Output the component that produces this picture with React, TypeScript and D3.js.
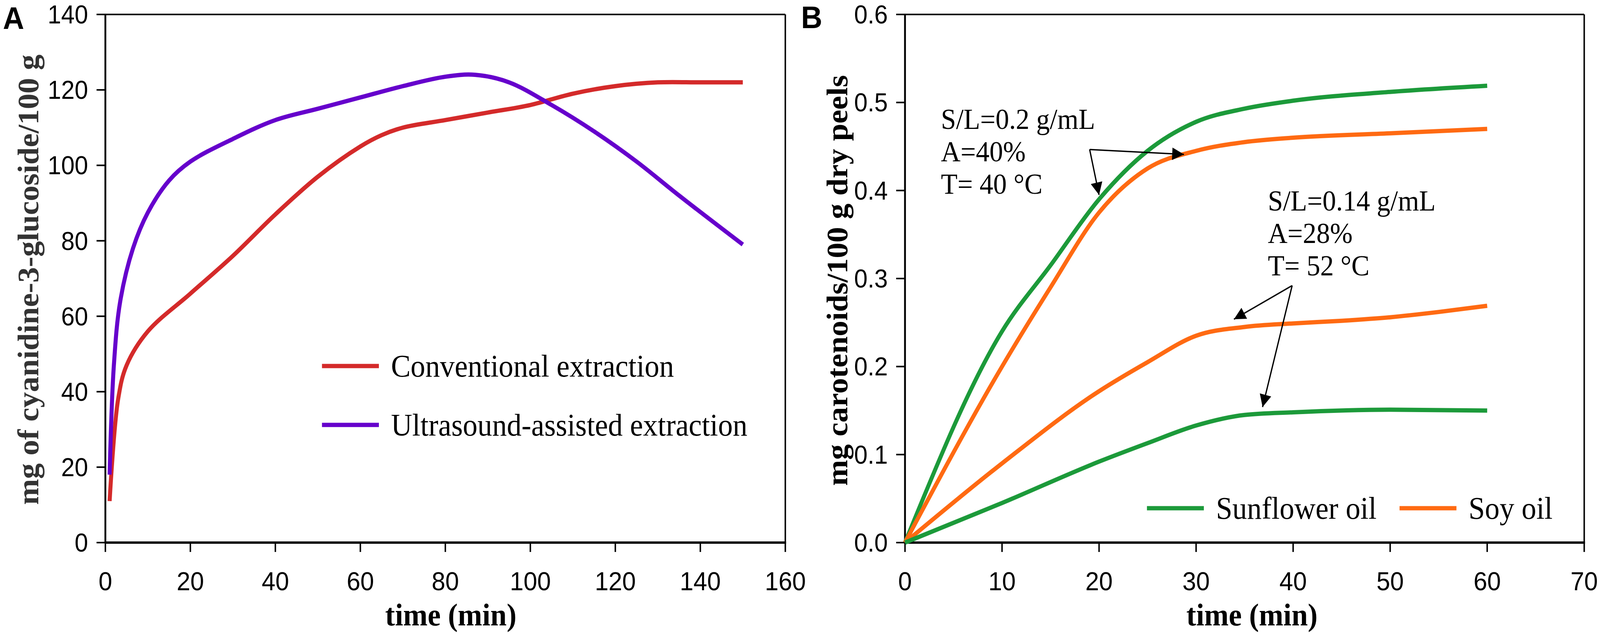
import React, { useEffect, useRef } from 'react';
import * as d3 from 'd3';

// Panel A: anthocyanin extraction
const timeConv = [1, 3, 5, 10, 20, 30, 40, 50, 60, 65, 70, 80, 90, 100, 110, 120, 130, 140, 150];
const conventional = [11, 38, 47, 56, 66, 76, 87, 97, 105, 108, 110, 112, 114, 116, 119, 121, 122, 122, 122];
const timeUltra = [1, 2, 3.5, 6.5, 10, 15, 20, 30, 40, 50, 60, 70, 80, 87, 95, 105, 115, 125, 135, 150];
const ultrasound = [18, 47, 64, 78, 87.5, 96, 101, 107, 112, 115, 118, 121, 123.5, 124, 122, 116, 109, 101, 92, 79];
const ticksA_x = [0, 20, 40, 60, 80, 100, 120, 140, 160];
const ticksA_y = [0, 20, 40, 60, 80, 100, 120, 140];

// Panel B: carotenoid extraction
const timeSunHigh = [0, 10, 15, 20, 25, 30, 35, 40, 50, 60];
const sunflowerHigh = [0, 0.24, 0.315, 0.39, 0.445, 0.478, 0.493, 0.502, 0.512, 0.519];
const timeSoyHigh = [0, 10, 15, 20, 25, 30, 35, 40, 50, 60];
const soyHigh = [0, 0.2, 0.29, 0.375, 0.425, 0.445, 0.455, 0.46, 0.465, 0.47];
const timeSoyLow = [0, 10, 20, 25, 30, 35, 40, 45, 50, 55, 60];
const soyLow = [0, 0.09, 0.172, 0.205, 0.235, 0.245, 0.249, 0.252, 0.256, 0.262, 0.269];
const timeSunLow = [0, 10, 20, 25, 30, 35, 40, 50, 60];
const sunflowerLow = [0, 0.045, 0.092, 0.113, 0.133, 0.145, 0.148, 0.151, 0.15];
const ticksB_x = [0, 10, 20, 30, 40, 50, 60, 70];
const ticksB_y = [0, 0.1, 0.2, 0.3, 0.4, 0.5, 0.6];

const noteHigh = ['S/L=0.2 g/mL', 'A=40%', 'T= 40 °C'];
const noteLow = ['S/L=0.14 g/mL', 'A=28%', 'T= 52 °C'];

const RED = '#d42a2a';
const PURPLE = '#6600cc';
const GREEN = '#1c9a3a';
const ORANGE = '#ff6a12';

const SANS = '"Liberation Sans", Arial, sans-serif';
const SERIF = '"Liberation Serif", "Times New Roman", serif';

const W = 4358;
const H = 1623;

const App: React.FC = () => {
    const svgRef = useRef<SVGSVGElement>(null);

    useEffect(() => {
        document.body.style.margin = '0';
        document.body.style.overflow = 'hidden';

        const svg = d3.select(svgRef.current);
        svg.selectAll('*').remove();

        const defs = svg.append('defs');
        defs.append('marker')
            .attr('id', 'arrow')
            .attr('viewBox', '0 0 10 10')
            .attr('refX', 10)
            .attr('refY', 5)
            .attr('markerUnits', 'userSpaceOnUse')
            .attr('markerWidth', 40)
            .attr('markerHeight', 32)
            .attr('orient', 'auto')
            .append('path')
            .attr('d', 'M0,0 L10,5 L0,10 Z')
            .attr('fill', '#000');

        const drawFrame = (x: d3.ScaleLinear<number, number>, y: d3.ScaleLinear<number, number>,
            xt: number[], yt: number[], yFmt: (v: number) => string) => {
            const [x0, x1] = x.range();
            const [y0, y1] = y.range();
            const g = svg.append('g');

            // box
            g.append('line').attr('x1', x0).attr('x2', x1).attr('y1', y1).attr('y2', y1)
                .attr('stroke', '#000').attr('stroke-width', 4);
            g.append('line').attr('x1', x1).attr('x2', x1).attr('y1', y1).attr('y2', y0)
                .attr('stroke', '#000').attr('stroke-width', 4);
            g.append('line').attr('x1', x0).attr('x2', x0).attr('y1', y1 - 2).attr('y2', y0 + 2)
                .attr('stroke', '#000').attr('stroke-width', 5);
            g.append('line').attr('x1', x0 - 2).attr('x2', x1 + 2).attr('y1', y0).attr('y2', y0)
                .attr('stroke', '#000').attr('stroke-width', 6);

            // x ticks
            xt.forEach(t => {
                g.append('line').attr('x1', x(t)).attr('x2', x(t)).attr('y1', y0).attr('y2', y0 + 24)
                    .attr('stroke', '#000').attr('stroke-width', 4);
                g.append('text').attr('x', x(t)).attr('y', y0 + 122)
                    .attr('text-anchor', 'middle')
                    .style('font-family', SANS).style('font-size', '67px')
                    .text(String(t));
            });

            // y ticks
            yt.forEach(v => {
                g.append('line').attr('x1', x0 - 24).attr('x2', x0).attr('y1', y(v)).attr('y2', y(v))
                    .attr('stroke', '#000').attr('stroke-width', 4);
                g.append('text').attr('x', x0 - 47).attr('y', y(v)).attr('dy', '0.35em')
                    .attr('text-anchor', 'end')
                    .style('font-family', SANS).style('font-size', '66px')
                    .text(yFmt(v));
            });
            return g;
        };

        const drawLine = (x: d3.ScaleLinear<number, number>, y: d3.ScaleLinear<number, number>,
            ts: number[], vs: number[], color: string, curve: d3.CurveFactory) => {
            const line = d3.line<number>()
                .x((_, i) => x(ts[i]))
                .y(d => y(d))
                .curve(curve);
            svg.append('path')
                .attr('d', line(vs) || '')
                .attr('fill', 'none')
                .attr('stroke', color)
                .attr('stroke-width', 11)
                .attr('stroke-linejoin', 'round');
        };

        const drawLegendItem = (lx: number, ly: number, color: string, label: string) => {
            svg.append('line').attr('x1', lx).attr('x2', lx + 155).attr('y1', ly).attr('y2', ly)
                .attr('stroke', color).attr('stroke-width', 11);
            svg.append('text').attr('x', lx + 188).attr('y', ly + 27)
                .style('font-family', SERIF).style('font-size', '80px')
                .text(label);
        };

        // ---------- Panel A ----------
        const xA = d3.scaleLinear().domain([0, 160]).range([287, 2139]);
        const yA = d3.scaleLinear().domain([0, 140]).range([1389, 37]);
        drawFrame(xA, yA, ticksA_x, ticksA_y, v => String(v));
        const smooth = d3.curveCatmullRom.alpha(0.5);
        drawLine(xA, yA, timeConv, conventional, RED, smooth);
        drawLine(xA, yA, timeUltra, ultrasound, PURPLE, smooth);

        drawLegendItem(877, yA(46.8), RED, 'Conventional extraction');
        drawLegendItem(877, yA(31.2), PURPLE, 'Ultrasound-assisted extraction');

        svg.append('text')
            .attr('transform', 'translate(104,716) rotate(-90)')
            .attr('text-anchor', 'middle')
            .style('font-family', SERIF).style('font-size', '80px').style('font-weight', 'bold')
            .style('fill', '#333')
            .text('mg of cyanidine-3-glucoside/100 g');
        svg.append('text')
            .attr('x', (xA(0) + xA(160)) / 2 + 15).attr('y', 1601)
            .attr('text-anchor', 'middle')
            .style('font-family', SERIF).style('font-size', '80px').style('font-weight', 'bold')
            .text('time (min)');
        svg.append('text').attr('x', 8).attr('y', 74)
            .style('font-family', SANS).style('font-size', '80px').style('font-weight', 'bold')
            .text('A');

        // ---------- Panel B ----------
        const xB = d3.scaleLinear().domain([0, 70]).range([2465, 4315]);
        const yB = d3.scaleLinear().domain([0, 0.6]).range([1389, 37]);
        drawFrame(xB, yB, ticksB_x, ticksB_y, v => v.toFixed(1));
        drawLine(xB, yB, timeSunHigh, sunflowerHigh, GREEN, d3.curveMonotoneX);
        drawLine(xB, yB, timeSoyHigh, soyHigh, ORANGE, d3.curveMonotoneX);
        drawLine(xB, yB, timeSoyLow, soyLow, ORANGE, d3.curveMonotoneX);
        drawLine(xB, yB, timeSunLow, sunflowerLow, GREEN, d3.curveMonotoneX);

        drawLegendItem(3124, yB(0.039), GREEN, 'Sunflower oil');
        drawLegendItem(3812, yB(0.039), ORANGE, 'Soy oil');

        // annotations (data coordinates)
        const drawNote = (t: number, v: number, lines: string[]) => {
            lines.forEach((s, i) => {
                svg.append('text').attr('x', xB(t)).attr('y', yB(v) + i * 83)
                    .style('font-family', SERIF).style('font-size', '74px')
                    .text(s);
            });
        };
        const drawArrow = (from: [number, number], to: [number, number]) => {
            svg.append('line')
                .attr('x1', xB(from[0])).attr('y1', yB(from[1]))
                .attr('x2', xB(to[0])).attr('y2', yB(to[1]))
                .attr('stroke', '#000').attr('stroke-width', 3.5)
                .attr('marker-end', 'url(#arrow)');
        };
        drawNote(3.7, 0.47, noteHigh);
        drawNote(37.4, 0.377, noteLow);
        drawArrow([19.03, 0.4466], [20.0, 0.395]);
        drawArrow([19.03, 0.4466], [28.75, 0.441]);
        drawArrow([39.9, 0.292], [33.9, 0.2537]);
        drawArrow([39.9, 0.292], [36.85, 0.154]);

        svg.append('text')
            .attr('transform', 'translate(2308,718) rotate(-90)')
            .attr('text-anchor', 'middle')
            .style('font-family', SERIF).style('font-size', '80px').style('font-weight', 'bold')
            .text('mg carotenoids/100 g dry peels');
        svg.append('text')
            .attr('x', (xB(0) + xB(70)) / 2 + 20).attr('y', 1601)
            .attr('text-anchor', 'middle')
            .style('font-family', SERIF).style('font-size', '80px').style('font-weight', 'bold')
            .text('time (min)');
        svg.append('text').attr('x', 2182).attr('y', 72)
            .style('font-family', SANS).style('font-size', '80px').style('font-weight', 'bold')
            .text('B');
    }, []);

    return (
        <svg ref={svgRef} viewBox={`0 0 ${W} ${H}`} preserveAspectRatio="none"
            style={{ position: 'fixed', left: 0, top: 0, width: '100vw', height: '100vh', background: '#fff', display: 'block' }}></svg>
    );
};

export default App;
